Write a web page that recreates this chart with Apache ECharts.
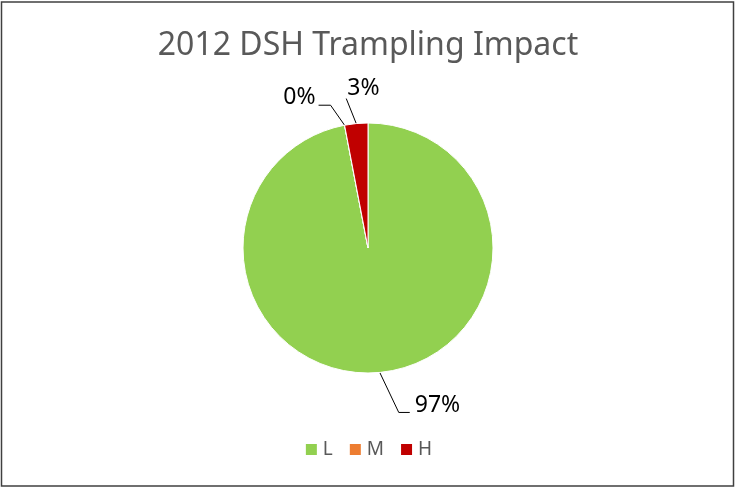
<!DOCTYPE html>
<html>
<head>
<meta charset="utf-8">
<script src="https://cdn.jsdelivr.net/npm/echarts@6/dist/echarts.min.js"></script>
<style>
  html, body { margin: 0; padding: 0; background: #fff; }
  #chart { width: 736px; height: 488px; }
</style>
</head>
<body>
<div id="chart"></div>
<script>
// Trampling impact classes and their share of sites (percent)
const categories = ['L', 'M', 'H'];
const shares = [97, 0, 3];
const colors = ['#92D050', '#ED7D31', '#C00000'];

// Leader-line geometry per slice, as offsets from the slice's edge anchor
const leaderBends = [[19, 40], [-14, -20], [-10, -25]];
const leaderTails = [[11, 0], [-12, 0], [0, 0]];
const labelOffsets = [[5, -7], [-3, -8], [1, -10]];
const labelAligns = ['left', 'right', 'left'];

const chart = echarts.init(document.getElementById('chart'), null, { renderer: 'canvas' });

const FONT = '"Noto Sans", "Open Sans", sans-serif';

chart.setOption({
  animation: false,
  backgroundColor: '#ffffff',
  title: {
    text: '2012 DSH Trampling Impact',
    left: 'center',
    top: 25,
    textStyle: { fontFamily: FONT, fontSize: 32, fontWeight: 'normal', color: '#595959' }
  },
  legend: {
    bottom: 24,
    left: 'center',
    itemWidth: 13,
    itemHeight: 13,
    itemGap: 15,
    icon: 'rect',
    textStyle: { fontFamily: FONT, fontSize: 19, color: '#595959' },
    data: categories
  },
  graphic: [{
    type: 'rect',
    shape: { x: 1.5, y: 2, width: 732, height: 484 },
    style: { fill: 'none', stroke: '#404040', lineWidth: 1.5 },
    silent: true
  }],
  series: [{
    type: 'pie',
    center: [368, 248],
    radius: [0, 125],
    startAngle: 90,
    clockwise: true,
    minAngle: 0,
    avoidLabelOverlap: false,
    stillShowZeroSum: true,
    itemStyle: { borderColor: '#ffffff', borderWidth: 1 },
    label: {
      show: true,
      position: 'outside',
      formatter: p => p.value + '%',
      fontFamily: FONT,
      fontSize: 23,
      color: '#000000'
    },
    labelLine: {
      show: true,
      length: 10,
      length2: 10,
      lineStyle: { color: '#000000', width: 1 }
    },
    labelLayout: function (params) {
      const i = params.dataIndex;
      const pts = params.labelLinePoints;
      if (!pts) return {};
      const a = pts[0];
      const b = [a[0] + leaderBends[i][0], a[1] + leaderBends[i][1]];
      const c = [b[0] + leaderTails[i][0], b[1] + leaderTails[i][1]];
      return {
        x: c[0] + labelOffsets[i][0],
        y: c[1] + labelOffsets[i][1],
        align: labelAligns[i],
        verticalAlign: 'middle',
        labelLinePoints: [a, b, c]
      };
    },
    data: categories.map((name, i) => ({
      name: name,
      value: shares[i],
      itemStyle: { color: colors[i] }
    }))
  }]
});
</script>
</body>
</html>
